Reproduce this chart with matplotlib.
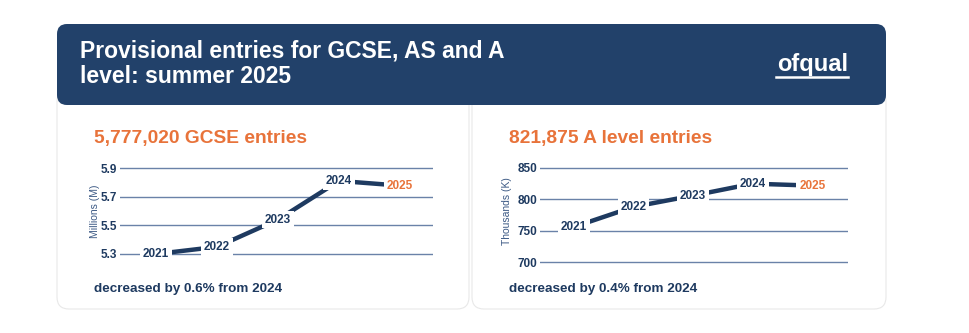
import numpy as np
import matplotlib.pyplot as plt
from matplotlib.patches import FancyBboxPatch

plt.rcParams['font.family'] = ['Liberation Sans', 'DejaVu Sans']

# data
years = [2021, 2022, 2023, 2024, 2025]
gcse = [5.30, 5.35, 5.54, 5.81, 5.777]        # millions
alevel = [756, 788, 806, 825, 821.9]          # thousands
gcse_ticks = [5.3, 5.5, 5.7, 5.9]
alevel_ticks = [700, 750, 800, 850]

title = "Provisional entries for GCSE, AS and A\nlevel: summer 2025"
gcse_head = "5,777,020 GCSE entries"
alevel_head = "821,875 A level entries"
gcse_foot = "decreased by 0.6% from 2024"
alevel_foot = "decreased by 0.4% from 2024"

NAVY = '#22416a'
LINE = '#1e3a60'
ORANGE = '#e8733a'
GRID = '#6a82a8'
W, H = 970, 333

fig = plt.figure(figsize=(W/100, H/100), dpi=100)
bg = fig.add_axes([0, 0, 1, 1])
bg.set_xlim(0, W)
bg.set_ylim(H, 0)
bg.axis('off')

# cards
for x0, x1 in [(57, 469), (472, 886)]:
	bg.add_patch(FancyBboxPatch((x0, 90), x1-x0, 219, boxstyle='round,pad=0,rounding_size=12',
		fc='white', ec='#e8e8e8', lw=0.8))
# header
bg.add_patch(FancyBboxPatch((57, 24), 829, 81, boxstyle='round,pad=0,rounding_size=10',
	fc=NAVY, ec='none'))
bg.text(80, 63.5, title, color='white', fontsize=16.5, fontweight='bold', va='center', ha='left',
	linespacing=1.15)
bg.text(848, 64, 'ofqual', color='white', fontsize=17, fontweight='bold', va='center', ha='right')
bg.plot([776, 848], [77, 77], color='white', lw=1.8)


def axpos(x0, x1, y0, y1):
	return [x0/W, 1-y1/H, (x1-x0)/W, (y1-y0)/H]


def panel(rect, xlim, ylim, vals, ticks, fmt, ylabel, head, foot, hx, ylx):
	ax = fig.add_axes(rect)
	ax.set_xlim(*xlim)
	ax.set_ylim(*ylim)
	ax.plot(years, vals, color=LINE, lw=3.2, solid_capstyle='butt', zorder=2)
	for i, (yr, v) in enumerate(zip(years, vals)):
		c = ORANGE if i == len(years)-1 else LINE
		ax.text(yr, v, str(yr), color=c, fontsize=8.5, fontweight='bold', ha='center', va='center',
			zorder=3, bbox=dict(fc='white', ec='none', pad=2))
	ax.set_yticks(ticks)
	ax.set_yticklabels([fmt(t) for t in ticks], color=LINE, fontsize=8.5, fontweight='bold')
	ax.tick_params(axis='y', length=0, pad=2)
	ax.set_xticks([])
	ax.grid(axis='y', color=GRID, lw=1)
	ax.set_axisbelow(True)
	for s in ax.spines.values():
		s.set_visible(False)
	ax.patch.set_alpha(0)
	bg.text(ylx, 211, ylabel, rotation=90, color='#3d5a85', fontsize=7.5,
		ha='center', va='center')
	bg.text(hx, 139, head, color=ORANGE, fontsize=13.8, fontweight='bold', ha='left', va='center')
	bg.text(hx, 289, foot, color=LINE, fontsize=9.7, fontweight='bold', ha='left', va='center')
	return ax


k1 = 143.3
panel(axpos(120, 433, 160, 262), (2020.41, 2025.54), (5.3-8/k1, 5.9+8/k1), gcse, gcse_ticks,
	lambda t: f'{t:.1f}', 'Millions (M)', gcse_head, gcse_foot, 94, 95)
k2 = 0.627
panel(axpos(540, 848, 160, 270), (2020.43, 2025.6), (700-8/k2, 850+8/k2), alevel, alevel_ticks,
	lambda t: f'{t:d}', 'Thousands (K)', alevel_head, alevel_foot, 509, 507)

fig.savefig('out.png', dpi=100)
